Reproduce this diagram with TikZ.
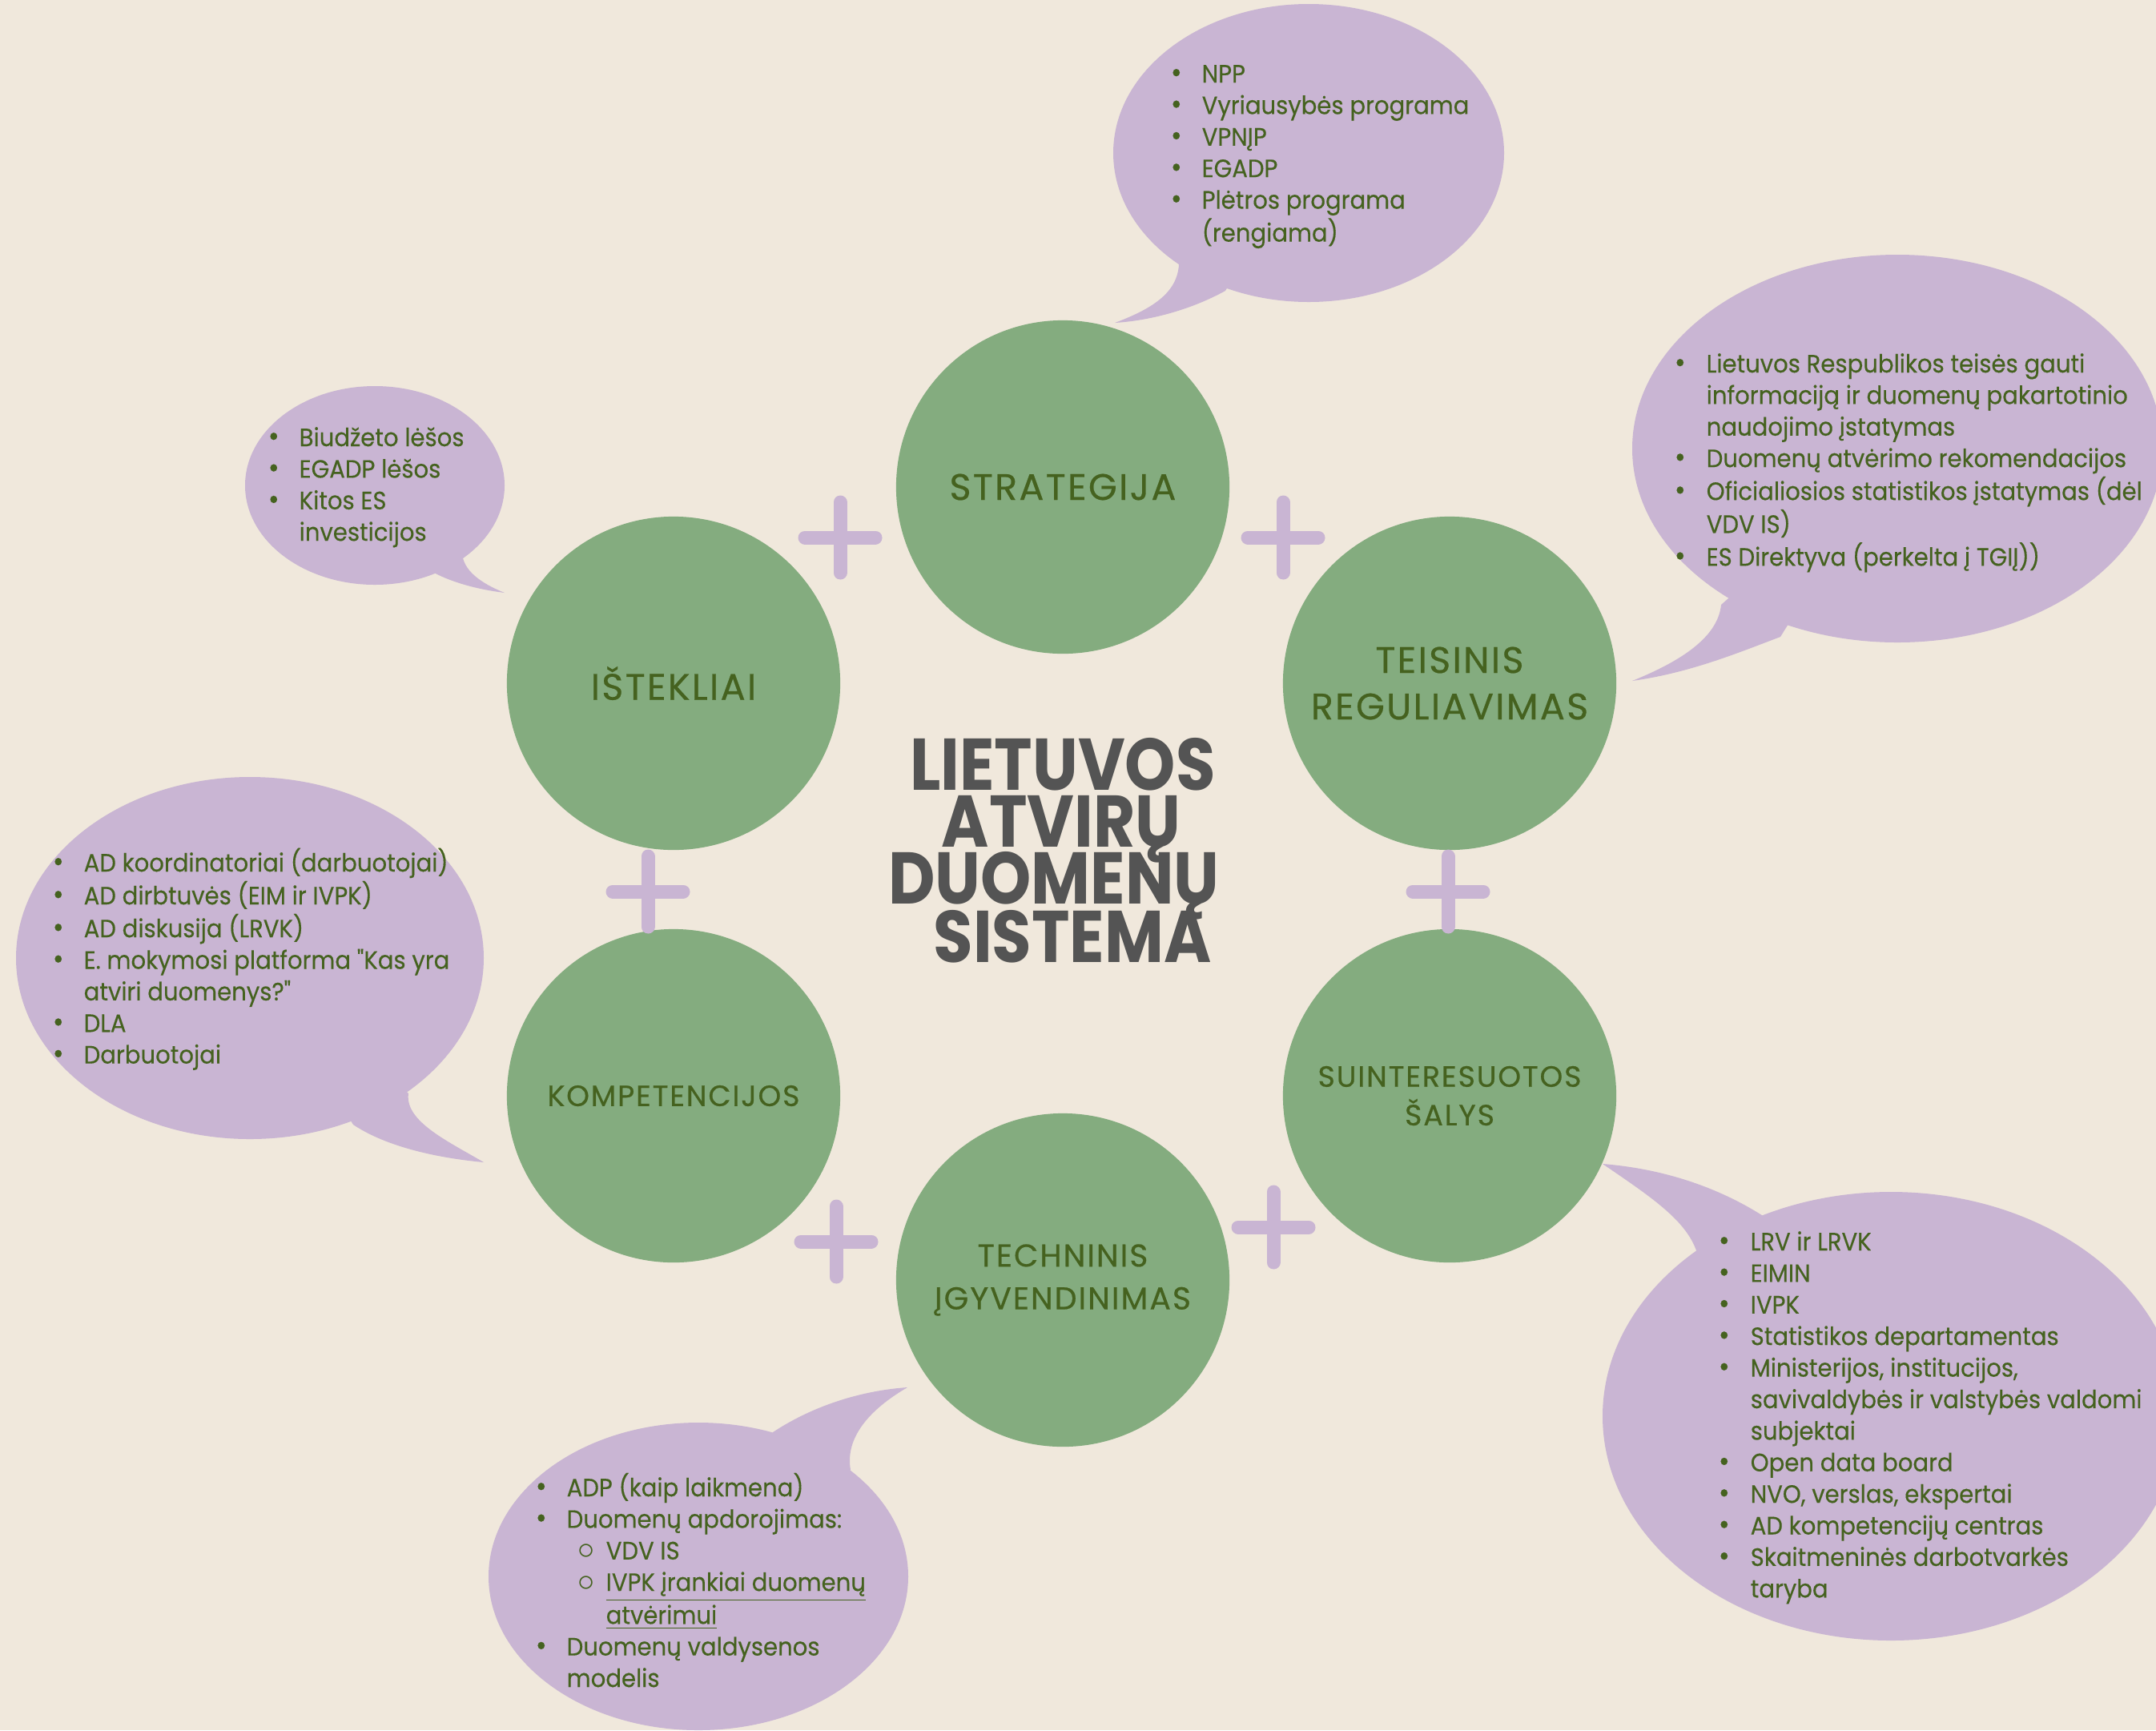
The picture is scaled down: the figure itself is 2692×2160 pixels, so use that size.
\documentclass[tikz,border=0pt]{standalone}
\usepackage{fontspec}
\setmainfont{Poppins}
\newfontfamily\titlefont{Poppins}[FakeStretch=0.88]
\newfontfamily\topicfont{Poppins}[LetterSpace=5, FakeBold=0.5]
\newfontfamily\notefont{Poppins}[FakeStretch=0.93, FakeBold=0.3]
\usetikzlibrary{positioning}

\definecolor{paper}{HTML}{F0E8DC}
\definecolor{leaf}{HTML}{84AC7F}
\definecolor{lilac}{HTML}{C9B5D3}
\definecolor{ink}{HTML}{45621F}
\definecolor{slate}{HTML}{545454}

\newcommand{\notesize}{\fontsize{8.9pt}{11.2pt}\selectfont}
\newcommand{\bigtopic}{\fontsize{13.1pt}{16.5pt}\selectfont}
\newcommand{\midtopic}{\fontsize{11.2pt}{15.2pt}\selectfont}
\newcommand{\smalltopic}{\fontsize{10.4pt}{13.7pt}\selectfont}
\newcommand{\titlesize}{\fontsize{26pt}{20.4pt}\selectfont}
\newcommand{\bul}{{\fontsize{10.5pt}{10.5pt}\selectfont\textbullet}}
\newcommand{\subbul}{\hspace{0.14cm}{\large$\circ$}}

\begin{document}
\begin{tikzpicture}[x=0.01cm,y=-0.01cm]
    \tikzstyle{topic}=[circle, fill=leaf, minimum size=4.16cm, inner sep=0pt, align=center, text=ink, font=\topicfont\bigtopic]
    \tikzstyle{bubble}=[fill=lilac]
    \tikzstyle{notes}=[anchor=base west, inner sep=0pt, text=ink, font=\notefont\notesize]
    \tikzstyle{titleword}=[anchor=base, inner sep=0pt, text=slate, font=\titlefont\bfseries\titlesize]
    \tikzstyle{plusline}=[draw=lilac, line width=0.17cm, line cap=round]

    \fill[paper] (0,0) rectangle (2692,2160);
    \useasboundingbox (0,0) rectangle (2692,2160);

    % speech bubbles
    \fill[bubble] (1634,191) ellipse [x radius=244, y radius=186];
    \fill[bubble] (1472,330) .. controls (1470,365) and (1440,385) .. (1392,403)
        .. controls (1440,400) and (1490,385) .. (1530,363) -- (1634,191) -- cycle;

    \fill[bubble] (2369,560) ellipse [x radius=331, y radius=242];
    \fill[bubble] (2149,755) .. controls (2145,795) and (2100,825) .. (2038,850)
        .. controls (2110,840) and (2170,815) .. (2223,795) -- (2369,560) -- cycle;

    \fill[bubble] (468,606) ellipse [x radius=162, y radius=124];
    \fill[bubble] (577,690) .. controls (578,712) and (600,728) .. (630,740)
        .. controls (590,735) and (560,725) .. (538,713) -- (468,606) -- cycle;

    \fill[bubble] (312,1196) ellipse [x radius=292, y radius=226];
    \fill[bubble] (510,1365) .. controls (505,1400) and (560,1425) .. (604,1451)
        .. controls (540,1445) and (480,1430) .. (441,1404) -- (312,1196) -- cycle;

    \fill[bubble] (872,1968) ellipse [x radius=262, y radius=192];
    \fill[bubble] (965,1788) .. controls (1015,1755) and (1075,1736) .. (1133,1732)
        .. controls (1085,1760) and (1055,1795) .. (1062,1835) -- (872,1968) -- cycle;

    \fill[bubble] (2361,1768) ellipse [x radius=360, y radius=280];
    \fill[bubble] (2209,1523) .. controls (2160,1490) and (2090,1460) .. (2001,1453)
        .. controls (2070,1500) and (2115,1530) .. (2122,1577) -- (2361,1768) -- cycle;

    % topics
    \node[topic] (strategija) at (1327,608) {STRATEGIJA};
    \node[topic] (istekliai) at (841,853) {IŠTEKLIAI};
    \node[topic] (teisinis) at (1810,853) {TEISINIS\\REGULIAVIMAS};
    \node[topic, font=\topicfont\smalltopic] (kompetencijos) at (841,1368) {KOMPETENCIJOS};
    \node[topic, font=\topicfont\smalltopic] (suinteresuotos) at (1810,1368) {SUINTERESUOTOS\\ŠALYS};
    \node[topic, font=\topicfont\midtopic] (techninis) at (1327,1598) {TECHNINIS\\ĮGYVENDINIMAS};

    \foreach \x/\y in {1049/671, 1602/671, 809/1113, 1808/1113, 1044/1550, 1590/1532}
        \draw[plusline] (\x-44,\y) -- (\x+44,\y) (\x,\y-44) -- (\x,\y+44);

    % title
    \foreach \word/\x/\y [count=\i] in {LIETUVOS/1327/986, ATVIRŲ/1325/1057, DUOMENŲ/1316/1128, SISTEMA/1339/1201}
        \node[titleword] (title\i) at (\x,\y) {\word};

    % notes
    \node[notes] (strategijanotes) at (1461,103) {\begin{tabular}[t]{@{}p{0.39cm}@{}l@{}}
        \bul & NPP\\
        \bul & Vyriausybės programa\\
        \bul & VPNĮP\\
        \bul & EGADP\\
        \bul & Plėtros programa\\
             & (rengiama)
    \end{tabular}};

    \node[notes] (teisinisnotes) at (2090,465) {\begin{tabular}[t]{@{}p{0.40cm}@{}l@{}}
        \bul & Lietuvos Respublikos teisės gauti\\
             & informaciją ir duomenų pakartotinio\\
             & naudojimo įstatymas\\
        \bul & Duomenų atvėrimo rekomendacijos\\
        \bul & Oficialiosios statistikos įstatymas (dėl\\
             & VDV IS)\\
        \bul & ES Direktyva (perkelta į TGIĮ))
    \end{tabular}};

    \node[notes] (isteklianotes) at (334,557) {\begin{tabular}[t]{@{}p{0.39cm}@{}l@{}}
        \bul & Biudžeto lėšos\\
        \bul & EGADP lėšos\\
        \bul & Kitos ES\\
             & investicijos
    \end{tabular}};

    \node[notes] (kompetencijosnotes) at (65,1088) {\begin{tabular}[t]{@{}p{0.39cm}@{}l@{}}
        \bul & AD koordinatoriai (darbuotojai)\\
        \bul & AD dirbtuvės (EIM ir IVPK)\\
        \bul & AD diskusija (LRVK)\\
        \bul & E. mokymosi platforma "Kas yra\\
             & atviri duomenys?"\\
        \bul & DLA\\
        \bul & Darbuotojai
    \end{tabular}};

    \node[notes] (technininotes) at (668,1868) {\begin{tabular}[t]{@{}p{0.39cm}@{}p{0.49cm}@{}l@{}}
        \bul & \multicolumn{2}{@{}l@{}}{ADP (kaip laikmena)}\\
        \bul & \multicolumn{2}{@{}l@{}}{Duomenų apdorojimas:}\\
             & \subbul & VDV IS\\
             & \subbul & \underline{IVPK įrankiai duomenų}\\
             &         & \underline{atvėrimui}\\
        \bul & \multicolumn{2}{@{}l@{}}{Duomenų valdysenos}\\
             & \multicolumn{2}{@{}l@{}}{modelis}
    \end{tabular}};

    \node[notes] (suinteresuotosnotes) at (2145,1561) {\begin{tabular}[t]{@{}p{0.40cm}@{}l@{}}
        \bul & LRV ir LRVK\\
        \bul & EIMIN\\
        \bul & IVPK\\
        \bul & Statistikos departamentas\\
        \bul & Ministerijos, institucijos,\\
             & savivaldybės ir valstybės valdomi\\
             & subjektai\\
        \bul & Open data board\\
        \bul & NVO, verslas, ekspertai\\
        \bul & AD kompetencijų centras\\
        \bul & Skaitmeninės darbotvarkės\\
             & taryba
    \end{tabular}};
\end{tikzpicture}
\end{document}
